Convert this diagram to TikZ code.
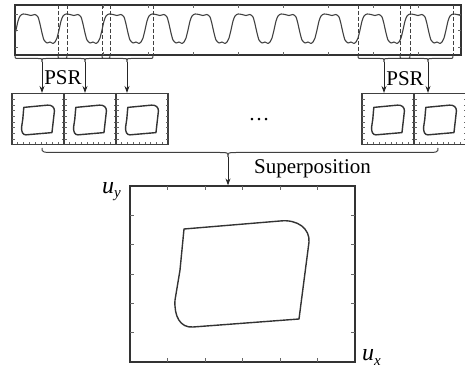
\documentclass[tikz,border=0pt]{standalone}
\usepackage{fontspec}
\setmainfont{Liberation Serif}
\usetikzlibrary{arrows.meta}
\tikzset{
 frame/.style={draw=black!80, line width=1.2pt, inner sep=0pt},
 wave/.style={draw=black!75, line width=1.1pt, line join=round},
 win/.style={draw=black!75, line width=1pt, dash pattern=on 4pt off 2pt},
 brc/.style={draw=black!75, line width=1pt},
 arr/.style={draw=black!85, line width=1pt, -{Stealth[length=7pt,width=5pt]}},
 tickmark/.style={draw=black!60, line width=0.6pt},
 loopline/.style={draw=black!80, line width=1.4pt, line join=round},
 lbl/.style={font=\fontsize{21}{24}\selectfont, inner sep=0pt},
 smallbox/.style={draw=black!75, line width=1.1pt, minimum width=52pt, minimum height=51pt, inner sep=0pt},
}
% brace: a b c y0 h rEnd rTip
\newcommand\mybrace[7]{%
 \draw[brc] (#1,#4) .. controls (#1,{#4+#5/2}) .. ({#1+#6},{#4+#5/2})
  -- ({#3-#7},{#4+#5/2}) .. controls (#3,{#4+#5/2}) .. (#3,{#4+#5})
  .. controls (#3,{#4+#5/2}) .. ({#3+#7},{#4+#5/2})
  -- ({#2-#6},{#4+#5/2}) .. controls (#2,{#4+#5/2}) .. (#2,#4);}
\newcommand\drawloop[1]{%
 \draw[loopline,#1] (-58,-45) -- (38,-53) .. controls (56,-55) and (68,-45) .. (67,-32)
  -- (57,45) -- (-49,53) .. controls (-62,54) and (-68,42) .. (-67,26) -- (-62,-4) -- cycle;}
\newcommand\smallplot[2]{%
 \node[smallbox] (#1) at (#2,119) {};
 \foreach \j in {1,...,8} {
   \draw[tickmark] ({#2-26},{93.5+\j*5.67}) -- ++(2.5,0);
   \draw[tickmark] ({#2+26},{93.5+\j*5.67}) -- ++(-2.5,0);
   \draw[tickmark] ({#2-26+\j*5.78},144.5) -- ++(0,-2.5);
 }
 \drawloop{shift={(#2,120)}, xscale=0.245, yscale=0.28}
}
\begin{document}
\begin{tikzpicture}[x=1pt,y=-1pt]
\useasboundingbox (0,0) rectangle (465,374);
% signal box
\node[frame, minimum width=446pt, minimum height=50pt] (sig) at (238,30) {};
\foreach \x in {58,103,...,418} {
  \draw[tickmark] (\x,5) -- (\x,8);
  \draw[tickmark] (\x,55) -- (\x,52);
}
\foreach \y in {14,30,47} {
  \draw[tickmark] (15,\y) -- (18,\y);
  \draw[tickmark] (461,\y) -- (458,\y);
}
\begin{scope}
\clip (15,5) rectangle (461,55);
\foreach \k in {-1,...,9} {
  \pgfmathsetmacro\xo{60+43*\k}
  \draw[wave, shift={(\xo,0)}] plot[smooth, tension=0.4] coordinates {(-5,42) (-3,38) (-1,30) (1,21) (3,16) (6,14) (10,14.5) (14,15.5) (18,14.5) (21,17) (23,24) (25,33) (27,40) (30,43) (33,42) (36,43.5) (38,42)};
}
\end{scope}
\foreach \x in {58,67,102,110,153,358,400,410,453} {
  \draw[win] (\x,5) -- (\x,55);
}
% braces
\mybrace{15}{67}{42}{55}{7}{4}{4}
\mybrace{58}{110}{85}{55}{7}{4}{4}
\mybrace{102}{153}{127}{55}{7}{4}{4}
\mybrace{358}{410}{384}{55}{7}{4}{4}
\mybrace{400}{453}{428}{55}{7}{4}{4}
\coordinate (t1) at (42,62);
\coordinate (t2) at (85,62);
\coordinate (t3) at (127,62);
\coordinate (t4) at (384,62);
\coordinate (t5) at (428,62);
% small plots
\smallplot{b1}{38}
\smallplot{b2}{90}
\smallplot{b3}{142}
\smallplot{b4}{388}
\begin{scope}
\clip (0,0) rectangle (465,374);
\smallplot{b5}{440}
\end{scope}
\draw[arr] (t1) -- (t1 |- b1.north);
\draw[arr] (t2) -- (t2 |- b2.north);
\draw[arr] (t3) -- (t3 |- b3.north);
\draw[arr] (t4) -- (t4 |- b4.north);
\draw[arr] (t5) -- (t5 |- b5.north);
\node[lbl] (psr1) at (63,78) {PSR};
\node[lbl] (psr2) at (405,79) {PSR};
\node[lbl] (dots) at (259,120) {\ldots};
% superposition
\mybrace{42}{438}{228}{148}{9}{16}{8}
\coordinate (tb) at (228,157);
\node[frame, minimum width=225pt, minimum height=176pt] (big) at (242.5,274) {};
\foreach \k in {1,...,5} {
  \draw[tickmark] ({130+37.5*\k},186) -- ++(0,4);
  \draw[tickmark] ({130+37.5*\k},362) -- ++(0,-4);
  \draw[tickmark] (130,{186+29.33*\k}) -- ++(4,0);
  \draw[tickmark] (355,{186+29.33*\k}) -- ++(-4,0);
}
\drawloop{shift={(242,274)}}
\draw[arr] (tb) -- (tb |- big.north);
\node[lbl] (sup) at (312.5,169) {Superposition};
\node[lbl, anchor=base west] (uy) at (102,193) {\fontsize{24}{24}\selectfont\itshape u\raisebox{-5pt}{\fontsize{15}{15}\selectfont y}};
\node[lbl, anchor=base west] (ux) at (362,360) {\fontsize{24}{24}\selectfont\itshape u\raisebox{-5pt}{\fontsize{15}{15}\selectfont x}};
\end{tikzpicture}
\end{document}
